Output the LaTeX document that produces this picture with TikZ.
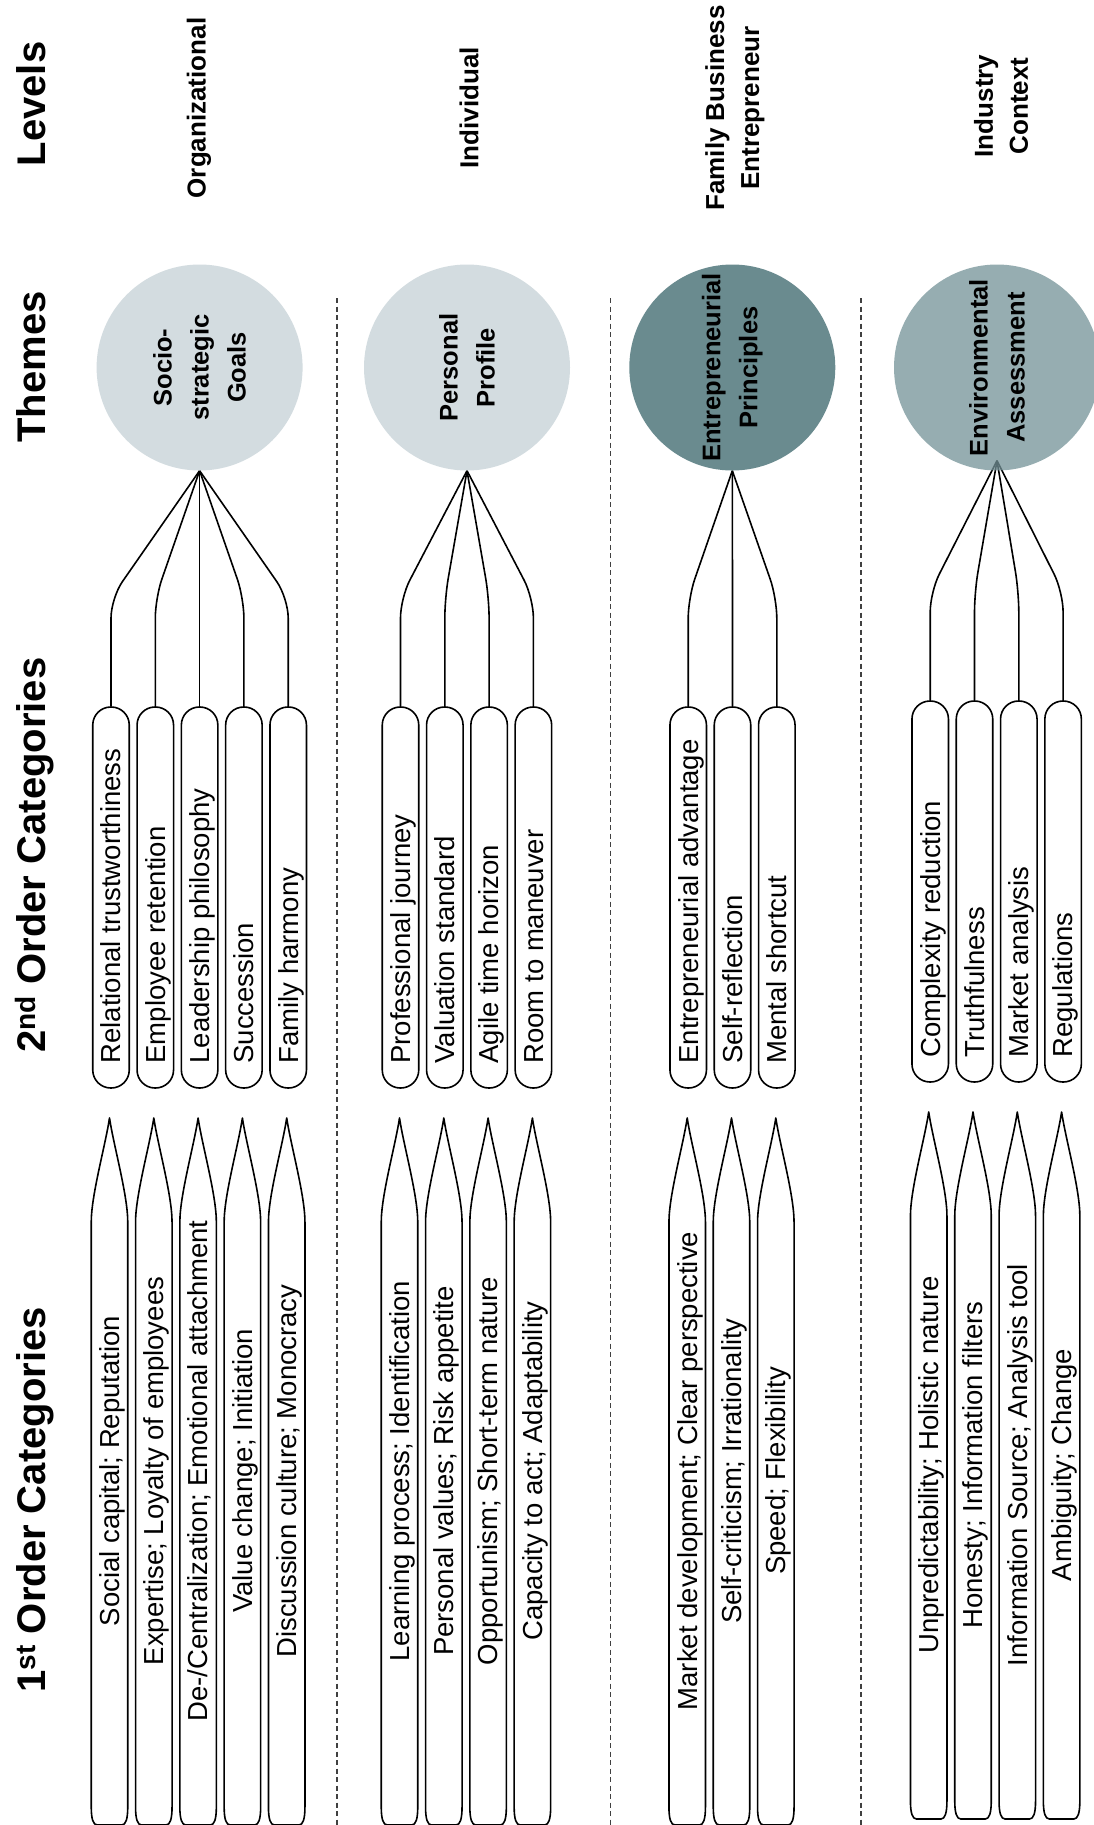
\documentclass[tikz,border=0pt]{standalone}
\usepackage{fontspec}
\setmainfont{Liberation Sans}
\usetikzlibrary{calc,backgrounds}

\definecolor{themelight}{HTML}{D3DCE0}
\definecolor{themedark}{HTML}{6A8B8F}
\definecolor{thememid}{RGB}{116,146,151}

\newcommand{\HeadFont}{\fontsize{40}{46}\selectfont\bfseries}
\newcommand{\LevelFont}{\fontsize{26}{35}\selectfont\bfseries}
\newcommand{\ThemeFont}{\fontsize{25.5}{37}\selectfont\bfseries}
\newcommand{\BoxFont}{\fontsize{27.5}{33}\selectfont}
\newcommand{\SOtext}[1]{\makebox[332pt][l]{#1}}

% first-order category: pencil-shaped outline with a centred label
% #1 centre x, #2 vertical shift, #3 node name, #4 label
\newcommand{\FirstOrd}[4]{%
  \draw[boxline]
    ({#1-18.25},{1222+(#2)}) .. controls ({#1-18.25},{1195+(#2)}) and ({#1-4},{1145+(#2)}) .. ({#1},{1118+(#2)})
    .. controls ({#1+4},{1145+(#2)}) and ({#1+18.25},{1195+(#2)}) .. ({#1+18.25},{1222+(#2)})
    -- ({#1+18.25},{1807+(#2)}) .. controls ({#1+18.25},{1819+(#2)}) and ({#1+16.25},{1825+(#2)}) .. ({#1+12.25},{1825+(#2)})
    -- ({#1-12.25},{1825+(#2)}) .. controls ({#1-16.25},{1825+(#2)}) and ({#1-18.25},{1819+(#2)}) .. ({#1-18.25},{1807+(#2)})
    -- cycle;
  \node[fotext] (#3) at ({#1+9.85},{1471+(#2)}) {#4};
}

\begin{document}
\begin{tikzpicture}[x=1pt, y=-1pt,
  boxline/.style={line width=1.6pt, line join=round},
  sobox/.style={draw, line width=1.6pt, rounded corners=18pt, rotate=90,
    minimum width=381pt, minimum height=36.5pt, inner xsep=24.4pt, inner ysep=0pt,
    text height=19.7pt, text depth=0pt, font=\BoxFont},
  fotext/.style={rotate=90, anchor=base, font=\BoxFont, inner sep=0pt},
  conn/.style={line width=1.6pt, rounded corners=20pt},
  theme/.style={circle, minimum size=206pt, inner sep=0pt, draw=none},
  themetext/.style={rotate=90, align=center, font=\ThemeFont, inner sep=0pt},
  lvl/.style={rotate=90, align=center, font=\LevelFont, inner sep=0pt},
  head/.style={rotate=90, anchor=base, font=\HeadFont, inner sep=0pt},
  sep/.style={dash pattern=on 5pt off 3.5pt, line width=1.1pt, black!75}]

\useasboundingbox (0,0) rectangle (1094,1825);

% column headings
\node[head] (hLevels) at (45,104) {Levels};
\node[head] (hThemes) at (45,367) {Themes};
\node[head] (hSecond) at (45,855) {2\textsuperscript{nd} Order Categories};
\node[head] (hFirst) at (45,1500) {1\textsuperscript{st} Order Categories};

% levels
\node[lvl] (l1) at (199,108) {Organizational};
\node[lvl] (l2) at (469,108) {Individual};
\node[lvl] (l3) at (735,108) {Family Business\\Entrepreneur};
\node[lvl] (l4) at (1001,106) {Industry\\Context};

% separators between the groups
\draw[sep] (337,298) -- (337,1825);
\draw[sep] (610.6,298) -- (610.6,1825);
\draw[sep] (861,298) -- (861,1825);

% themes
\node[theme, fill=themelight] (t1) at (199.6,367.5) {};
\node[theme, fill=themelight] (t2) at (467,367.5) {};
\node[theme, fill=themedark] (t3) at (732.3,367.5) {};
\node[theme, fill=thememid, fill opacity=0.75] (t4) at (997,367.5) {};
\coordinate (a4) at ($(t4.south)+(0,-10)$);
\node[themetext] (t1l) at (t1) {Socio-\\strategic\\Goals};
\node[themetext] (t2l) at (t2) {Personal\\Profile};
\node[themetext] (t3l) at (t3) {Entrepreneurial\\Principles};
\node[themetext] (t4l) at (t4) {Environmental\\Assessment};

% second-order categories
\node[sobox] (s11) at (111.0,897.5) {\SOtext{Relational trustworthiness}};
\node[sobox] (s12) at (155.3,897.5) {\SOtext{Employee retention}};
\node[sobox] (s13) at (199.6,897.5) {\SOtext{Leadership philosophy}};
\node[sobox] (s14) at (243.9,897.5) {\SOtext{Succession}};
\node[sobox] (s15) at (288.2,897.5) {\SOtext{Family harmony}};

\node[sobox] (s21) at (400.5,897.5) {\SOtext{Professional journey}};
\node[sobox] (s22) at (444.8,897.5) {\SOtext{Valuation standard}};
\node[sobox] (s23) at (489.1,897.5) {\SOtext{Agile time horizon}};
\node[sobox] (s24) at (533.4,897.5) {\SOtext{Room to maneuver}};

\node[sobox] (s31) at (688.2,897.5) {\SOtext{Entrepreneurial advantage}};
\node[sobox] (s32) at (732.5,897.5) {\SOtext{Self-reflection}};
\node[sobox] (s33) at (776.8,897.5) {\SOtext{Mental shortcut}};

\node[sobox] (s41) at (930.2,891.5) {\SOtext{Complexity reduction}};
\node[sobox] (s42) at (974.5,891.5) {\SOtext{Truthfulness}};
\node[sobox] (s43) at (1018.8,891.5) {\SOtext{Market analysis}};
\node[sobox] (s44) at (1063.1,891.5) {\SOtext{Regulations}};

% links from second-order categories to their theme
\begin{scope}[on background layer]
  \fill[white] (0,0) rectangle (1094,1825);
  \foreach \s in {s11,s12,s13,s14,s15}
    \draw[conn] (\s.east) -- (\s.east |- 0,598) -- (t1.south);
  \foreach \s in {s21,s22,s23,s24}
    \draw[conn] (\s.east) -- (\s.east |- 0,598) -- (t2.south);
  \foreach \s in {s31,s32,s33}
    \draw[conn] (\s.east) -- (\s.east |- 0,598) -- (t3.south);
  \foreach \s in {s41,s42,s43,s44}
    \draw[conn] (\s.east) -- (\s.east |- 0,592) -- (a4);
\end{scope}

% first-order categories
\FirstOrd{109.5}{0}{f11}{Social capital; Reputation}
\FirstOrd{153.8}{0}{f12}{Expertise; Loyalty of employees}
\FirstOrd{198.1}{0}{f13}{De-/Centralization; Emotional attachment}
\FirstOrd{242.4}{0}{f14}{Value change; Initiation}
\FirstOrd{286.7}{0}{f15}{Discussion culture; Monocracy}

\FirstOrd{399.5}{0}{f21}{Learning process; Identification}
\FirstOrd{443.8}{0}{f22}{Personal values; Risk appetite}
\FirstOrd{488.1}{0}{f23}{Opportunism; Short-term nature}
\FirstOrd{532.4}{0}{f24}{Capacity to act; Adaptability}

\FirstOrd{687.2}{0}{f31}{Market development; Clear perspective}
\FirstOrd{731.5}{0}{f32}{Self-criticism; Irrationality}
\FirstOrd{775.8}{0}{f33}{Speed; Flexibility}

\FirstOrd{928.7}{-6}{f41}{Unpredictability; Holistic nature}
\FirstOrd{973.0}{-6}{f42}{Honesty; Information filters}
\FirstOrd{1017.3}{-6}{f43}{Information Source; Analysis tool}
\FirstOrd{1061.6}{-6}{f44}{Ambiguity; Change}

\end{tikzpicture}
\end{document}
